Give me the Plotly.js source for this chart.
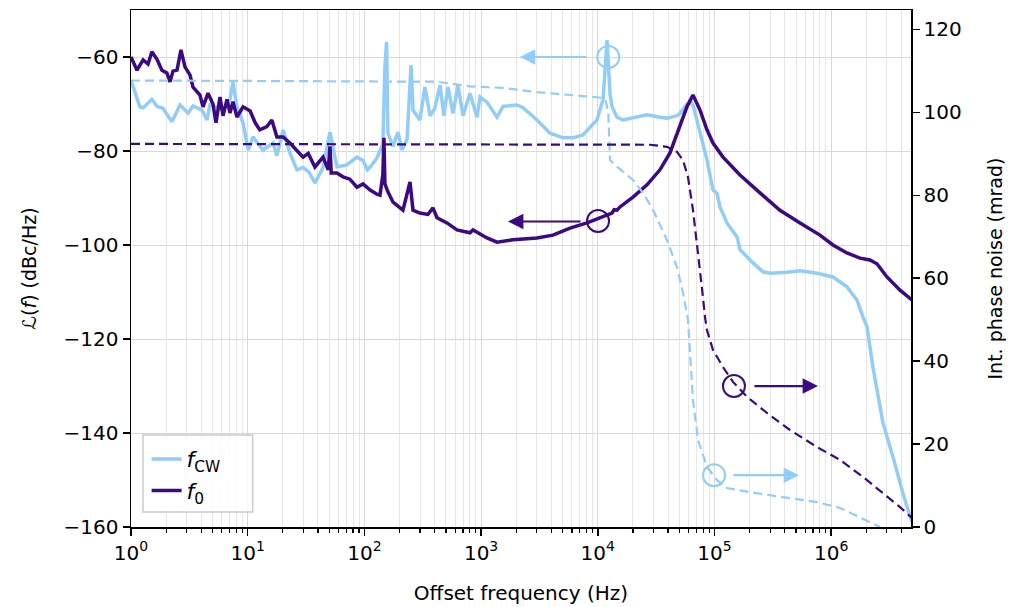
<!DOCTYPE html>
<html>
<head>
<meta charset="utf-8">
<script src="https://cdn.plot.ly/plotly-3.0.1.min.js"></script>
<style>html,body{margin:0;padding:0;background:#fff;}#chart{width:1012px;height:607px;}</style>
</head>
<body>
<div id="chart"></div>
<script>
// ---- Data ----
// Phase noise of f_CW (solid light blue), left axis, dBc/Hz
const cwFreq = [1.0,1.08,1.19,1.27,1.51,1.67,1.88,2.24,2.63,3.08,3.40,4.06,4.48,4.75,5.35,6.14,7.05,7.48,8.09,9.12,10.1,11.1,13.5,16.5,17.8,20.1,23.0,26.4,29.8,33.5,37.7,44.2,50.7,58.2,70,86.4,97.3,106,112,128,144,150,155,159,176,194,210,232,251,261,299,330,365,400,445,480,520,574,634,700,803,923,979,1124,1368,1541,2031,2286,3013,3894,5035,6124,7460,9840,11090,12000,12740,13250,14620,16440,20030,24380,26400,34100,39160,47700,50600,58100,63000,66000,75200,86200,97100,105000,111400,128000,156000,165500,190000,213800,260400,299200,417800,540800,755100,1.035e6,1.365e6,1.663e6,1.871e6,2.027e6,2.28e6,2.78e6,3.388e6,4.12e6,4.92e6];
const cwNoise = [-64.9,-67.7,-70.6,-70.8,-69,-70.5,-70.9,-73.8,-70.2,-71.9,-70.4,-71.3,-73.4,-70.2,-70.6,-71.3,-69,-65.3,-70.6,-74,-79.8,-77,-79.8,-78.3,-81,-75.5,-80.4,-84,-83.5,-84.5,-86.8,-83.5,-76,-83.4,-83,-81.3,-82,-84,-83.4,-81.5,-78.5,-62,-56.8,-76.2,-79,-76,-79.8,-77.5,-61.7,-71.3,-73.4,-66.4,-72.5,-71,-66,-72.5,-66.4,-72,-66,-72.5,-67.7,-72.8,-68.5,-69.6,-72.8,-70.5,-70.2,-70.8,-73.4,-76.2,-77.2,-77.2,-76.6,-73.4,-69.1,-56.4,-68,-70.6,-72.8,-73.4,-73,-72.6,-72.3,-72.8,-73,-72.5,-72,-70,-69.5,-70.5,-76.2,-81.9,-88.3,-89,-91.9,-95.3,-98.3,-101,-102.5,-103.8,-105.7,-106,-105.8,-105.5,-106,-106.8,-108.9,-111.7,-115.3,-117.4,-126,-137.9,-145.1,-152.8,-159];

// Phase noise of f_0 (solid dark purple), left axis, dBc/Hz
const f0Freq = [1.0,1.125,1.27,1.4,1.51,1.67,1.84,2.03,2.16,2.29,2.48,2.68,2.90,3.20,3.40,3.90,4.14,4.57,5.04,5.35,5.79,6.14,6.65,7.05,7.48,8.09,9.12,10.5,11.6,12.7,14.6,16.1,17.8,20.1,23.0,26.4,29.8,33,37.7,44.2,49,50.7,52,58.2,65.6,75,86.4,97.3,112,128,136,144,147,150,159,176,214,246,261,299,350,387,419,510,621,803,853,1124,1368,1877,3013,4130,5780,8075,11090,13250,13800,14620,15490,20030,26400,34100,41550,50600,58100,65400,75200,86200,97100,118300,165500,245500,364000,540800,801700,1.035e6,1.365e6,1.766e6,2.148e6,2.467e6,3.006e6,3.89e6,4.92e6];
const f0Noise = [-60,-62.8,-60.6,-61.5,-58.9,-60.5,-62.8,-63.4,-65.3,-63,-62.8,-58.5,-62.1,-63.8,-66.4,-68.1,-70.6,-67.7,-70,-74,-68.5,-72.5,-69,-71.9,-69.5,-72.8,-70.6,-71.5,-74,-75.5,-74.8,-73.4,-77,-77,-78.3,-79.8,-81.3,-80.5,-83.4,-81.3,-84,-79,-84.7,-84.7,-85.5,-86,-87.7,-87,-88.3,-89.2,-89.4,-85,-77.2,-87,-88.7,-90.9,-92.6,-86.6,-92.6,-93.2,-93.5,-92.1,-94.2,-95.3,-96.8,-97.4,-96.8,-98.5,-99.4,-98.9,-98.5,-97.9,-96.4,-95.3,-94,-93.2,-92.5,-92.6,-91.9,-89.8,-87.2,-84,-80.4,-74.9,-70.6,-68.1,-71.3,-75.5,-78.3,-81.3,-85.1,-88.9,-92.6,-95.3,-97.9,-100,-101.7,-102.8,-103.2,-104,-106.8,-109.6,-111.7];

// Integrated phase noise of f_CW (dashed light blue), right axis, mrad
const cwIntFreq = [1,112,419,803,1541,3013,5780,11090,11700,12300,12740,14620,20030,24380,29700,39160,47700,53700,59300,61600,65400,72300,86200,105000,128000,201500,386400,755100,1.189e6,1.766e6,2.148e6,2.618e6];
const cwIntPN = [107.7,107.6,107.4,106.3,105.9,104.9,104.2,103.5,102.8,100,88.5,86.9,83.7,80.6,76.5,69.2,62.7,56.5,49.9,42.7,30.6,21,14.5,11.3,9.4,8.4,7.2,6,4.6,2.2,1,0];

// Integrated phase noise of f_0 (dashed dark purple), right axis, mrad
const f0IntFreq = [1,20030,28000,39160,47700,53700,59300,65400,70800,78200,82900,86200,97100,118300,144100,190000,281800,443600,755100,1.189e6,1.871e6,2.78e6,3.89e6,4.92e6];
const f0IntPN = [92.4,92.3,92.2,91.7,90.5,88.5,84.4,76.5,68.5,57.5,50.7,47.5,42.7,38.6,35,31.4,27.5,23.4,19.3,16.2,12.1,8.2,4.8,2.2];

// Axis marker circles (which curve belongs to which axis)
const cwCircleFreq = [12300];          const cwCircleVal = [-60];     // left axis
const f0CircleFreq = [10050];          const f0CircleVal = [-94.9];   // left axis
const f0IntCircleFreq = [146900];      const f0IntCircleVal = [34];   // right axis
const cwIntCircleFreq = [99100];       const cwIntCircleVal = [12.5]; // right axis

// Axis tick labels
const xTickVals = [1,10,100,1000,10000,100000,1000000];
const xTickText = ['10<sup>0</sup>','10<sup>1</sup>','10<sup>2</sup>','10<sup>3</sup>','10<sup>4</sup>','10<sup>5</sup>','10<sup>6</sup>'];
const yTickVals = [-160,-140,-120,-100,-80,-60];
const y2TickVals = [0,20,40,60,80,100,120];

// ---- Styling ----
const LIGHT = '#92CDF8';
const DARK = '#3B0A82';
const FONT = 'DejaVu Sans, sans-serif';

const minorVals = [];
for (let d = 0; d < 7; d++) for (let k = 2; k <= 9; k++) minorVals.push(k * Math.pow(10, d));

function circ(x, y, ax, color) {
  return {x: x, y: y, yaxis: ax, mode: 'markers', showlegend: false, hoverinfo: 'skip',
          marker: {symbol: 'circle-open', size: 22, color: color, line: {color: color, width: 2}}};
}

const traces = [
  {x: cwIntFreq, y: cwIntPN, yaxis: 'y2', mode: 'lines', line: {color: LIGHT, width: 2.2, dash: '9px,5px'}, showlegend: false, hoverinfo: 'skip'},
  {x: f0IntFreq, y: f0IntPN, yaxis: 'y2', mode: 'lines', line: {color: DARK, width: 2.2, dash: '9px,5px'}, showlegend: false, hoverinfo: 'skip'},
  {x: cwFreq, y: cwNoise, mode: 'lines', name: '<i>f</i><sub>CW</sub>', line: {color: LIGHT, width: 3.5}},
  {x: f0Freq, y: f0Noise, mode: 'lines', name: '<i>f</i><sub>0</sub>', line: {color: DARK, width: 3.5}},
  circ(cwCircleFreq, cwCircleVal, 'y', LIGHT),
  circ(f0CircleFreq, f0CircleVal, 'y', DARK),
  circ(f0IntCircleFreq, f0IntCircleVal, 'y2', DARK),
  circ(cwIntCircleFreq, cwIntCircleVal, 'y2', LIGHT)
];

// arrows: [tail freq, tip freq, value, axis, color]
const arrows = [
  [8240, 2150, -60, 'y', LIGHT],
  [7330, 1700, -95, 'y', DARK],
  [213800, 771000, 34, 'y2', DARK],
  [141000, 530000, 12.5, 'y2', LIGHT]
];
const annotations = arrows.map(a => ({
  x: Math.log10(a[1]), y: a[2], ax: Math.log10(a[0]), ay: a[2], xref: 'x', yref: a[3], axref: 'x', ayref: a[3],
  text: '', showarrow: true, arrowhead: 2, arrowsize: 1.4, arrowwidth: 2.2, arrowcolor: a[4], standoff: 0
}));

const shapes = [{
  type: 'rect', xref: 'paper', yref: 'paper', x0: 0.0154, x1: 0.156, y0: 0.029, y1: 0.178,
  line: {color: '#cccccc', width: 1.5}, fillcolor: 'rgba(255,255,255,0.85)', layer: 'above'
}];

const layout = {
  width: 1012, height: 607,
  margin: {l: 131, r: 101, t: 10, b: 80},
  paper_bgcolor: '#fff', plot_bgcolor: '#fff',
  font: {family: FONT, size: 19, color: '#000'},
  showlegend: true,
  legend: {x: 0.02, y: 0.172, xanchor: 'left', yanchor: 'top', bgcolor: 'rgba(0,0,0,0)',
           borderwidth: 0, font: {family: FONT, size: 22}, tracegroupgap: 0},
  xaxis: {
    type: 'log', range: [0, 6.684], tickmode: 'array', tickvals: xTickVals, ticktext: xTickText,
    ticks: 'outside', ticklen: 7, tickwidth: 1.5, tickcolor: '#000',
    showline: true, linecolor: '#000', linewidth: 1.5, mirror: true,
    showgrid: true, gridcolor: '#d9d9d9', gridwidth: 1, zeroline: false,
    minor: {tickmode: 'array', tickvals: minorVals, ticks: 'outside', ticklen: 4, tickwidth: 1.2, tickcolor: '#000',
            showgrid: true, gridcolor: '#e6e6e6', gridwidth: 1},
    title: {text: 'Offset frequency (Hz)', font: {family: FONT, size: 20}, standoff: 22},
    tickfont: {family: FONT, size: 20}
  },
  yaxis: {
    range: [-160, -50], tickmode: 'array', tickvals: yTickVals,
    ticks: 'outside', ticklen: 7, tickwidth: 1.5, tickcolor: '#000',
    showline: true, linecolor: '#000', linewidth: 1.5,
    showgrid: true, gridcolor: '#d9d9d9', zeroline: false,
    title: {text: 'ℒ(<i>f</i>) (dBc/Hz)', font: {family: FONT, size: 19}, standoff: 22},
    tickfont: {family: FONT, size: 20}
  },
  yaxis2: {
    overlaying: 'y', side: 'right', range: [0, 124.7], tickmode: 'array', tickvals: y2TickVals,
    ticks: 'outside', ticklen: 7, tickwidth: 1.5, tickcolor: '#000',
    showline: true, linecolor: '#000', linewidth: 1.5, showgrid: false, zeroline: false,
    title: {text: 'Int. phase noise (mrad)', font: {family: FONT, size: 19}, standoff: 28},
    tickfont: {family: FONT, size: 20}
  },
  shapes: shapes,
  annotations: annotations
};

Plotly.newPlot('chart', traces, layout, {displayModeBar: false, staticPlot: true});
</script>
</body>
</html>
